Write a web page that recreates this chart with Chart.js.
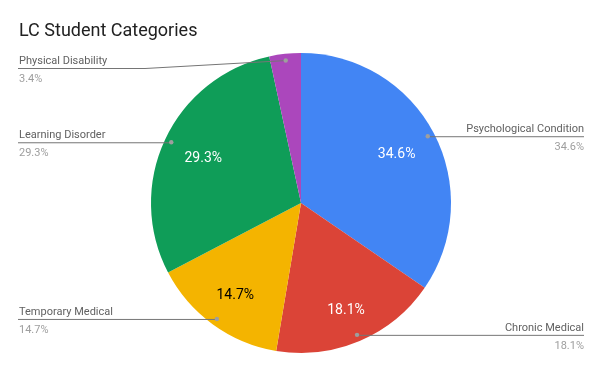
<!DOCTYPE html>
<html>
<head>
<meta charset="utf-8">
<script src="https://cdn.jsdelivr.net/npm/chart.js@4"></script>
<style>
html,body{margin:0;padding:0;background:#fff;}
#c{display:block;}
</style>
</head>
<body>
<canvas id="c" width="603" height="373"></canvas>
<script>
const title = "LC Student Categories";
const categories = ["Psychological Condition", "Chronic Medical", "Temporary Medical", "Learning Disorder", "Physical Disability"];
const values = [34.6, 18.1, 14.7, 29.3, 3.4];
const colors = ["#4285F4", "#DB4437", "#F4B400", "#0F9D58", "#AB47BC"];
const innerTextColors = ["#ffffff", "#ffffff", "#000000", "#ffffff", "#ffffff"];

const FONT = "Roboto, 'Noto Sans', sans-serif";

const labelPlugin = {
  id: 'sideLabels',
  afterDatasetsDraw(chart) {
    const ctx = chart.ctx;
    const meta = chart.getDatasetMeta(0);
    ctx.save();
    // title
    ctx.fillStyle = "#212121";
    ctx.font = "18px " + FONT;
    ctx.textAlign = "left";
    ctx.textBaseline = "alphabetic";
    ctx.fillText(title, 19, 36);

    meta.data.forEach((arc, i) => {
      const p = arc.getProps(['x','y','startAngle','endAngle','outerRadius'], true);
      const mid = (p.startAngle + p.endAngle) / 2;
      const R = p.outerRadius;
      const ux = Math.cos(mid), uy = Math.sin(mid);
      const pct = values[i].toFixed(1) + "%";
      // inner label: fit text box inside radius
      if (values[i] > 5) {
        ctx.font = "14px " + FONT;
        const tw = ctx.measureText(pct).width;
        const th = 10;
        const r = R * 0.847 - (Math.abs(ux) * tw / 2 + Math.abs(uy) * th / 2);
        const ix = p.x + ux * r;
        const iy = p.y + uy * r + 1.5;
        ctx.fillStyle = innerTextColors[i];
        ctx.textAlign = "center";
        ctx.textBaseline = "middle";
        ctx.fillText(pct, ix, iy);
      }
      // outer dot + leader
      const dx = p.x + ux * R * 0.955;
      const dy = p.y + uy * R * 0.955;
      const right = ux > 0;
      const ly = Math.max(dy, 68);
      ctx.strokeStyle = "#757575";
      ctx.lineWidth = 1;
      ctx.beginPath();
      if (right) {
        ctx.moveTo(dx, ly + 0.5);
        ctx.lineTo(584, ly + 0.5);
      } else {
        ctx.moveTo(18, ly + 0.5);
        if (ly !== dy) {
          ctx.lineTo(145, ly + 0.5);
          ctx.lineTo(dx, dy);
        } else {
          ctx.lineTo(dx, ly + 0.5);
        }
      }
      ctx.stroke();
      ctx.fillStyle = "#9e9e9e";
      ctx.beginPath();
      ctx.arc(dx, dy, 2.2, 0, Math.PI * 2);
      ctx.fill();
      // texts
      ctx.font = "11px " + FONT;
      ctx.textBaseline = "alphabetic";
      ctx.textAlign = right ? "right" : "left";
      const tx = right ? 584 : 19;
      ctx.fillStyle = "#616161";
      ctx.fillText(categories[i], tx, ly - 4);
      ctx.fillStyle = "#9e9e9e";
      ctx.fillText(pct, tx, ly + 14);
    });
    ctx.restore();
  }
};

new Chart(document.getElementById('c'), {
  type: 'pie',
  data: {
    labels: categories,
    datasets: [{
      data: values,
      backgroundColor: colors,
      borderWidth: 0,
      hoverOffset: 0
    }]
  },
  options: {
    responsive: false,
    animation: false,
    layout: { padding: { top: 53, bottom: 20, left: 0, right: 1 } },
    plugins: {
      legend: { display: false },
      tooltip: { enabled: false },
      title: { display: false }
    }
  },
  plugins: [labelPlugin]
});
</script>
</body>
</html>
